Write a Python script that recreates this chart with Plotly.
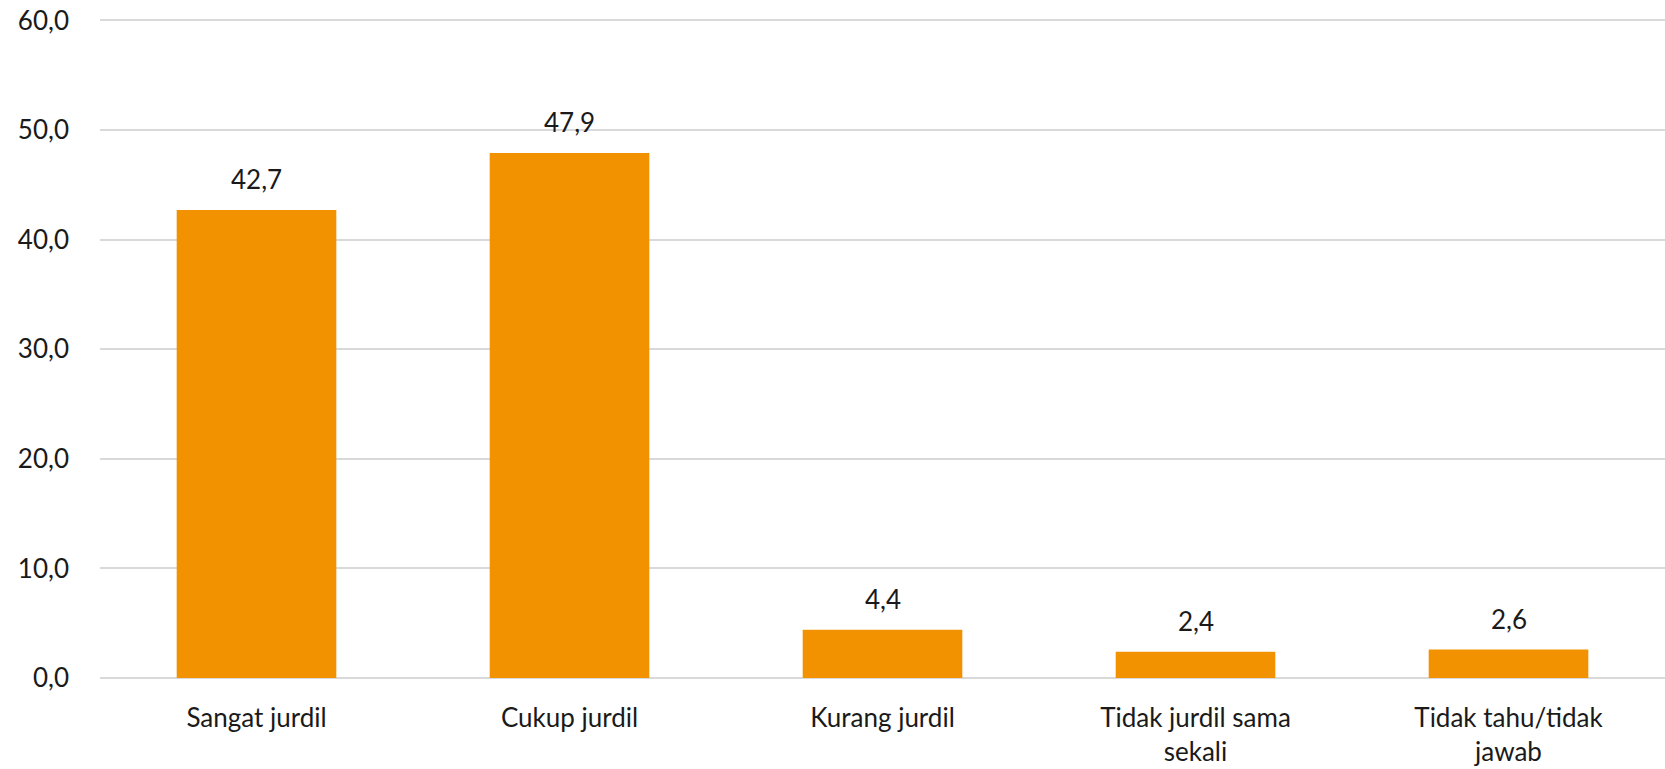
import plotly.graph_objects as go

categories = ["Sangat jurdil", "Cukup jurdil", "Kurang jurdil",
              "Tidak jurdil sama<br>sekali", "Tidak tahu/tidak<br>jawab"]
values = [42.7, 47.9, 4.4, 2.4, 2.6]
y_ticks = [0, 10, 20, 30, 40, 50, 60]
y_tick_labels = ["0,0", "10,0", "20,0", "30,0", "40,0", "50,0", "60,0"]

bar_color = "#F39200"
grid_color = "#D9D9D9"
text_color = "#1a1a1a"
font_family = "Lato, 'Open Sans', sans-serif"
font_size = 26

fig = go.Figure()
fig.add_trace(go.Bar(
    x=categories,
    y=values,
    marker=dict(color=bar_color, line=dict(width=0)),
    cliponaxis=False,
))

# value labels above each bar
for cat, val in zip(categories, values):
    fig.add_annotation(
        x=cat, y=val,
        text=f"{val:.1f}".replace(".", ","),
        showarrow=False,
        yanchor="bottom",
        yshift=13,
        font=dict(size=font_size, color=text_color, family=font_family),
    )

fig.update_layout(
    width=1665,
    height=769,
    paper_bgcolor="white",
    plot_bgcolor="white",
    separators=",.",
    bargap=0.49,
    showlegend=False,
    font=dict(family=font_family, size=font_size, color=text_color),
    margin=dict(l=100, r=0, t=15, b=91, autoexpand=False),
    xaxis=dict(
        showgrid=False,
        showline=False,
        ticks="",
        ticklabelstandoff=22,
        automargin=False,
        tickfont=dict(size=font_size, color=text_color),
    ),
    yaxis=dict(
        range=[0, 60.5],
        tickvals=y_ticks,
        ticktext=y_tick_labels,
        showgrid=True,
        gridcolor=grid_color,
        gridwidth=2,
        zeroline=True,
        zerolinecolor=grid_color,
        zerolinewidth=2,
        showline=False,
        ticks="",
        ticklabelstandoff=30,
        ticklabeloverflow="allow",
        automargin=False,
        tickfont=dict(size=font_size, color=text_color),
    ),
)

# drop the default 8px page margin so the chart fills the window
fig.write_html("out.html",
               config={"displayModeBar": False},
               post_script="document.body.style.margin='0';"
               "document.body.style.overflow='hidden';")
